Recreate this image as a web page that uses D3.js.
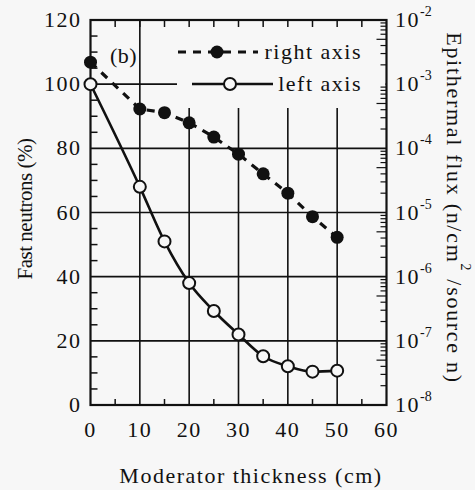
<!DOCTYPE html>
<html>
<head>
<meta charset="utf-8">
<script src="https://cdn.jsdelivr.net/npm/d3@7"></script>
<style>
  body { margin: 0; background: #f7f7f7; }
  svg { display: block; font-family: "Liberation Serif", "DejaVu Serif", serif; }
</style>
</head>
<body>
<div id="app"></div>
<script>
// data
var thickness = [0, 10, 15, 20, 25, 30, 35, 40, 45, 50];
var fastNeutrons = [100, 68, 51, 38, 29.3, 22, 15.2, 12.1, 10.4, 10.7];
var epithermalFlux = [2.2e-3, 4.1e-4, 3.6e-4, 2.5e-4, 1.5e-4, 8.1e-5, 4.0e-5, 2.0e-5, 8.6e-6, 4.1e-6];
var xTicks = [0, 10, 20, 30, 40, 50, 60];
var leftTicks = [0, 20, 40, 60, 80, 100, 120];
var rightExps = [-2, -3, -4, -5, -6, -7, -8];

var width = 475, height = 490;
var pLeft = 90.5, pRight = 386.5, pTop = 20, pBottom = 405;
var bg = '#f7f7f7', ink = '#111';

var svg = d3.select('#app').append('svg')
  .attr('width', width)
  .attr('height', height);

svg.append('rect').attr('width', width).attr('height', height).attr('fill', bg);

var x = d3.scaleLinear().domain([0, 60]).range([pLeft, pRight]);
var yL = d3.scaleLinear().domain([0, 120]).range([pBottom, pTop]);
var yR = d3.scaleLog().domain([1e-8, 1e-2]).range([pBottom, pTop]);

var grid = svg.append('g').attr('stroke', ink).attr('stroke-width', 1.6);

// grid lines
grid.selectAll('line.h')
  .data(leftTicks.filter(function (d) { return d > 0 && d < 120; }))
  .enter().append('line')
  .attr('x1', pLeft).attr('x2', pRight)
  .attr('y1', yL).attr('y2', yL);

grid.selectAll('line.v')
  .data(xTicks.filter(function (d) { return d > 0 && d < 60; }))
  .enter().append('line')
  .attr('x1', x).attr('x2', x)
  .attr('y1', pTop).attr('y2', pBottom);

// legend box hides grid
svg.append('rect')
  .attr('x', 177).attr('y', pTop + 1)
  .attr('width', pRight - 178).attr('height', 87)
  .attr('fill', bg);

// minor ticks, inward
var ticks = svg.append('g').attr('stroke', ink).attr('stroke-width', 1.5);
var minorL = d3.range(5, 120, 5).filter(function (d) { return d % 20 != 0; });
ticks.selectAll('line.l').data(minorL).enter().append('line')
  .attr('x1', pLeft).attr('x2', pLeft + 7).attr('y1', yL).attr('y2', yL);

var minorX = d3.range(5, 60, 5);
ticks.selectAll('line.t').data(minorX).enter().append('line')
  .attr('x1', x).attr('x2', x).attr('y1', pTop).attr('y2', pTop + 7);
ticks.selectAll('line.b').data(minorX.filter(function (d) { return d % 10 != 0; })).enter().append('line')
  .attr('x1', x).attr('x2', x).attr('y1', pBottom).attr('y2', pBottom - 6);

var minorR = [];
rightExps.forEach(function (e) {
  if (e == -2) return;
  for (var k = 2; k <= 9; k++) minorR.push(k * Math.pow(10, e));
});
ticks.selectAll('line.r').data(minorR).enter().append('line')
  .attr('x1', pRight).attr('x2', function (d) {
    var k = Math.round(d / Math.pow(10, Math.floor(Math.log10(d) + 1e-9)));
    return pRight - (k == 5 ? 10 : 6);
  })
  .attr('y1', yR).attr('y2', yR)
  .attr('stroke-width', 1.2);

// frame
svg.append('rect')
  .attr('x', pLeft).attr('y', pTop)
  .attr('width', pRight - pLeft).attr('height', pBottom - pTop)
  .attr('fill', 'none').attr('stroke', ink).attr('stroke-width', 2.2);

// tick labels
var lab = svg.append('g').attr('fill', ink)
  .style('font-size', '22px').style('letter-spacing', '1.5px');
lab.selectAll('text.x').data(xTicks).enter().append('text')
  .attr('x', x).attr('y', 437)
  .attr('text-anchor', 'middle')
  .text(function (d) { return d; });

lab.selectAll('text.l').data(leftTicks).enter().append('text')
  .attr('x', pLeft - 9).attr('y', function (d) { return yL(d) + 7; })
  .attr('text-anchor', 'end')
  .text(function (d) { return d; });

var rt = lab.selectAll('text.r').data(rightExps).enter().append('text')
  .attr('x', 395).attr('y', function (d) { return yR(Math.pow(10, d)) + 7; });
rt.append('tspan').text('10');
rt.append('tspan').attr('dy', -11).style('font-size', '14px').style('letter-spacing', '0px')
  .text(function (d) { return '-' + Math.abs(d); });

// axis titles
var titleStyle = function (t) {
  return t.attr('fill', ink).style('font-size', '22px').style('letter-spacing', '1.5px');
};

titleStyle(svg.append('text'))
  .attr('x', 251).attr('y', 483)
  .attr('text-anchor', 'middle')
  .text('Moderator thickness (cm)');

titleStyle(svg.append('text'))
  .attr('transform', 'translate(32,209) rotate(-90)')
  .attr('text-anchor', 'middle')
  .style('font-size', '21px').style('letter-spacing', '-0.5px')
  .text('Fast neutrons (%)');

var rtitle = titleStyle(svg.append('text'))
  .attr('transform', 'translate(447,208) rotate(90)')
  .attr('text-anchor', 'middle')
  .style('font-size', '22px').style('letter-spacing', '1.7px');
rtitle.append('tspan').text('Epithermal flux (n/cm');
rtitle.append('tspan').attr('dy', -14).style('font-size', '14px').text('2');
rtitle.append('tspan').attr('dy', 14).text(' /source n)');

titleStyle(svg.append('text'))
  .attr('x', 110).attr('y', 63)
  .style('letter-spacing', '0.5px')
  .text('(b)');

// series
var lineR = d3.line()
  .x(function (d, i) { return x(thickness[i]); })
  .y(function (d) { return yR(d); });

var lineL = d3.line()
  .x(function (d, i) { return x(thickness[i]); })
  .y(function (d) { return yL(d); })
  .curve(d3.curveMonotoneX);

svg.append('path')
  .attr('d', lineR(epithermalFlux))
  .attr('fill', 'none').attr('stroke', ink)
  .attr('stroke-width', 3.2).attr('stroke-dasharray', '8,7');

svg.append('path')
  .attr('d', lineL(fastNeutrons))
  .attr('fill', 'none').attr('stroke', ink)
  .attr('stroke-width', 2.6);

svg.selectAll('circle.r').data(epithermalFlux).enter().append('circle')
  .attr('cx', function (d, i) { return x(thickness[i]); })
  .attr('cy', yR)
  .attr('r', 6.5)
  .attr('fill', ink);

svg.selectAll('circle.l').data(fastNeutrons).enter().append('circle')
  .attr('cx', function (d, i) { return x(thickness[i]); })
  .attr('cy', yL)
  .attr('r', 6)
  .attr('fill', bg).attr('stroke', ink).attr('stroke-width', 2);

// legend
var leg = svg.append('g');
leg.append('line').attr('x1', 178).attr('x2', 258).attr('y1', 52).attr('y2', 52)
  .attr('stroke', ink).attr('stroke-width', 3.2).attr('stroke-dasharray', '8,7');
leg.append('circle').attr('cx', 217).attr('cy', 52).attr('r', 6.5).attr('fill', ink);
titleStyle(leg.append('text')).attr('x', 362).attr('y', 59).attr('text-anchor', 'end')
  .text('right axis');

leg.append('line').attr('x1', 192).attr('x2', 273).attr('y1', 84).attr('y2', 84)
  .attr('stroke', ink).attr('stroke-width', 2.6);
leg.append('circle').attr('cx', 230).attr('cy', 84).attr('r', 6)
  .attr('fill', bg).attr('stroke', ink).attr('stroke-width', 2);
titleStyle(leg.append('text')).attr('x', 362).attr('y', 91).attr('text-anchor', 'end')
  .text('left axis');
</script>
</body>
</html>
